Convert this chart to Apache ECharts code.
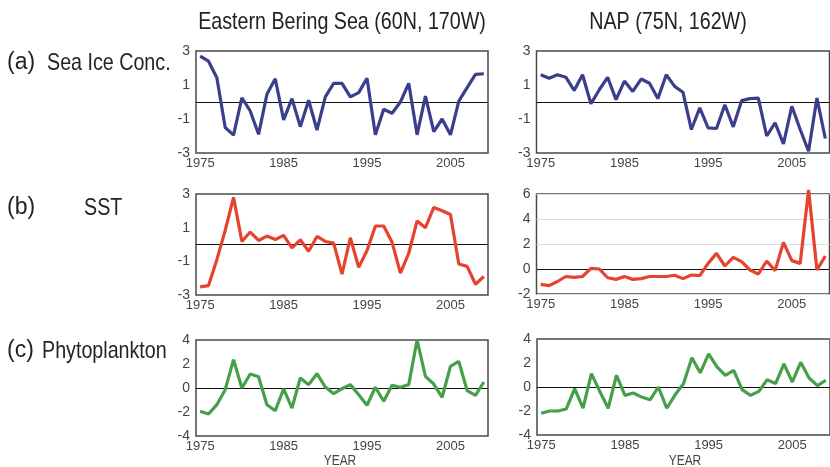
<!DOCTYPE html>
<html><head><meta charset="utf-8">
<script src="https://cdn.jsdelivr.net/npm/echarts@6/dist/echarts.min.js"></script>
<style>html,body{margin:0;padding:0;background:#fff}#c{width:830px;height:467px}</style>
</head><body><div id="c"></div>
<script>
const years = ['1975','1976','1977','1978','1979','1980','1981','1982','1983','1984',
  '1985','1986','1987','1988','1989','1990','1991','1992','1993','1994',
  '1995','1996','1997','1998','1999','2000','2001','2002','2003','2004',
  '2005','2006','2007','2008','2009'];
const iceBering = [2.7,2.4,1.43,-1.5,-1.95,0.25,-0.53,-1.9,0.45,1.37,
  -1.05,0.2,-1.45,0.1,-1.65,0.3,1.1,1.1,0.3,0.55,
  1.4,-1.93,-0.43,-0.66,0,1.1,-1.93,0.35,-1.74,-1.0,
  -1.93,0.05,0.85,1.62,1.66];
const iceNAP = [1.6,1.4,1.6,1.46,0.68,1.6,-0.1,0.72,1.45,0.14,
  1.23,0.62,1.35,1.1,0.2,1.6,0.92,0.57,-1.62,-0.35,
  -1.52,-1.56,-0.16,-1.46,0.08,0.2,0.23,-2.0,-1.23,-2.46,
  -0.25,-1.62,-2.9,0.23,-2.15];
const sstBering = [-2.52,-2.44,-0.9,0.84,2.8,0.18,0.74,0.24,0.5,0.3,
  0.54,-0.2,0.28,-0.4,0.48,0.18,0.08,-1.76,0.4,-1.36,
  -0.36,1.1,1.1,0.14,-1.7,-0.52,1.4,1.0,2.2,2.0,
  1.78,-1.16,-1.3,-2.36,-1.9];
const sstNAP = [-1.23,-1.33,-1.0,-0.6,-0.67,-0.6,0.05,0,-0.7,-0.83,
  -0.6,-0.83,-0.77,-0.6,-0.6,-0.6,-0.5,-0.77,-0.48,-0.53,
  0.45,1.25,0.24,0.93,0.59,-0.08,-0.4,0.64,-0.13,2.13,
  0.67,0.45,6.32,-0.08,1.04];
const phytoBering = [-1.94,-2.17,-1.39,-0.14,2.36,0,1.17,0.94,-1.39,-1.89,
  -0.08,-1.67,0.83,0.28,1.19,0.08,-0.47,-0.06,0.28,-0.56,
  -1.44,0.06,-1.1,0.22,0.06,0.28,4.0,0.97,0.33,-0.78,
  1.8,2.22,-0.22,-0.61,0.5];
const phytoNAP = [-2.19,-2.0,-2.0,-1.83,-0.14,-1.77,1.12,-0.37,-1.77,0.98,
  -0.7,-0.5,-0.84,-1.07,0,-1.77,-0.65,0.28,2.44,1.18,
  2.76,1.67,0.97,1.39,-0.22,-0.7,-0.36,0.61,0.28,1.92,
  0.42,2.06,0.75,0.11,0.56];

const colTitle = 'Eastern Bering Sea (60N, 170W)';
const colTitle2 = 'NAP (75N, 162W)';
const rowLetters = ['(a)','(b)','(c)'];
const rowNames = ['Sea Ice Conc.','SST','Phytoplankton'];
const xName = 'YEAR';

const SANS = "'Liberation Sans',Arial,sans-serif";
const BLUE = '#3a3f8c', RED = '#e6432f', GREEN = '#46a04a';

const grids = [
  {left:196, top:51, width:292, height:102},
  {left:536.5, top:51, width:293, height:102},
  {left:196, top:194, width:292, height:101},
  {left:536.5, top:194, width:293, height:100},
  {left:196, top:340, width:292, height:96},
  {left:537, top:339, width:298, height:96}
];
const yCfg = [
  {min:-3,max:3,interval:1,odd:true},
  {min:-3,max:3,interval:1,odd:true},
  {min:-3,max:3,interval:1,odd:true},
  {min:-2,max:6,interval:2,odd:false,split:true},
  {min:-4,max:4,interval:2,odd:false},
  {min:-4,max:4,interval:2,odd:false}
];
const seriesData = [iceBering, iceNAP, sstBering, sstNAP, phytoBering, phytoNAP];
const colors = [BLUE, BLUE, RED, RED, GREEN, GREEN];

function narrowText(text, x, y, size, align, fill, sx) {
  return {type:'text', x:x, y:y, scaleX:sx, scaleY:1,
    style:{text:text, font:size+'px '+SANS, fill:fill, x:0, y:0, textAlign:align, textVerticalAlign:'middle'}};
}

const option = {
  animation:false,
  grid: grids.map(g => Object.assign({show:true, borderColor:'#4a4a4a', borderWidth:1.5, backgroundColor:'transparent'}, g)),
  xAxis: grids.map((g,i) => ({
    type:'category', gridIndex:i, data:years, boundaryGap:true,
    axisLine:{show:false}, axisTick:{show:false},
    axisLabel:{interval:9, color:'#444', fontSize:13, fontFamily:SANS, margin:4}
  })),
  yAxis: yCfg.map((c,i) => ({
    type:'value', gridIndex:i, min:c.min, max:c.max, interval:c.interval,
    axisLine:{show:false}, axisTick:{show:false},
    splitLine:{show:!!c.split, lineStyle:{color:'#dddddd', width:1}},
    axisLabel:{color:'#444', fontSize:14, fontFamily:SANS, margin:6,
      formatter: v => (c.odd && Math.abs(v) % 2 === 0) ? '' : String(v)}
  })),
  series: seriesData.map((d,i) => ({
    type:'line', xAxisIndex:i, yAxisIndex:i, data:d, symbol:'none', clip:false,
    lineStyle:{color:colors[i], width:3.2}, z:3,
    markLine:{silent:true, symbol:'none', label:{show:false},
      lineStyle:{color:'#111', width:1, type:'solid'}, data:[{yAxis:0}], z:2}
  })),
  graphic: [
    narrowText(colTitle, 342, 22, 24, 'center', '#222', 0.82),
    narrowText(colTitle2, 668, 22, 24, 'center', '#222', 0.82),
    narrowText(rowLetters[0], 7, 63, 23, 'left', '#222', 1),
    narrowText(rowNames[0], 47, 63, 24, 'left', '#2a2220', 0.82),
    narrowText(rowLetters[1], 7, 208, 23, 'left', '#222', 1),
    narrowText(rowNames[1], 84, 208, 24, 'left', '#2a2220', 0.82),
    narrowText(rowLetters[2], 7, 351, 23, 'left', '#222', 1),
    narrowText(rowNames[2], 42, 351, 24, 'left', '#2a2220', 0.82),
    narrowText(xName, 340, 461, 14, 'center', '#444', 0.85),
    narrowText(xName, 685, 461, 14, 'center', '#444', 0.85)
  ]
};
const chart = echarts.init(document.getElementById('c'), null, {renderer:'canvas'});
chart.setOption(option);
</script>
</body></html>
